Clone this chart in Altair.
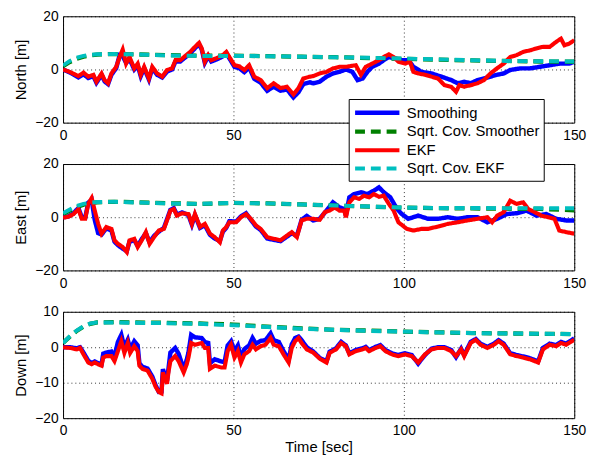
import altair as alt
import pandas as pd

SERIES = ["Smoothing", "Sqrt. Cov. Smoother", "EKF", "Sqrt. Cov. EKF"]
COLORS = ["#0000ff", "#008000", "#ff0000", "#00bfbf"]
WIDTHS = [4.5, 4, 2.5, 3]
DASHES = [[1, 0], [10, 6], [1, 0], [10, 6]]

# ---- North ----
north_ekf_t = [0, 2.1, 4.5, 6, 7.4, 8.9, 9.8, 11.3, 12.2, 13.2, 14.2, 15.6, 16.6, 17.5, 18.5, 19.5,
               20.9, 21.9, 22.8, 23.8, 25.2, 26.2, 27.6, 29.1, 30.5, 32, 33, 34.4, 35.8, 37.3, 38.7,
               39.9, 40.7, 41.6, 42.6, 43.5, 45.5, 46.9, 47.9, 48.8, 50.3, 51.7, 53.2, 54.6, 56.1,
               58, 59.9, 61.8, 63.8, 65.7, 67.6, 69.1, 70.5, 72.4,
               73.4, 75.3, 77.3, 79.2, 81.1, 83, 85.9, 87.4, 88.8, 90.7, 92.7, 94.1, 95.6, 97, 98.4,
               100.4, 101.8, 102.8, 104.2, 106.2, 108.1, 110, 111.9, 113.9, 115.3, 116.3, 117.7,
               119.6, 121.6, 123.5, 125.4, 127.3, 129.3, 131.2, 133.1, 135, 137, 138.9, 140.8,
               142.8, 144.7, 146.1, 147.1, 148.5, 150]
north_ekf = [0, -1, -2.5, -1.2, -2.7, -2, -4.6, -1.5, -4, -5.2, -1.5, 1, 4.7, 7.5, 2.2, 4.7,
             0.4, 2.2, -2, 1, -3.4, 1, -1.5, -2.7, -0.2, 0.4, 3.5, 3.5, 5, 6.6, 8.5,
             10, 7.9, 2.9, 5.4, 3.5, 4.5, 5.4, 6.6, 4.7, 1.6, 1.2, -0.2, 1.6, -2.7,
             -4, -7, -5.2, -7, -6.5, -9.4, -7, -3.4, -2.7,
             -2.5, -1.5, -0.9, 0.4, 1, 1, 1.6, -2, 1, 2.2, 3.5, 4.7, 5.7, 4.7, 2.9,
             2.2, 2.9, -0.9, -1.5, -2, -2.7, -3.4, -5.9, -6.5, -8.4, -5.9, -6.5,
             -5.9, -5.2, -4, -1.5, 0.4, 2.2, 4.7, 5.4, 6.6, 7.2, 7.9, 8.5,
             8.5, 10.4, 11.6, 9.1, 9.7, 11]
north_smooth_t = [0, 2.1, 4.5, 6, 7.4, 8.9, 9.8, 11.3, 12.2, 13.2, 14.2, 15.6, 16.6, 17.5, 18.5, 19.5,
                  20.9, 21.9, 22.8, 23.8, 25.2, 26.2, 27.6, 29.1, 30.5, 32, 33, 34.4, 35.8, 37.3, 38.7,
                  39.9, 40.7, 41.6, 42.6, 43.5, 45.5, 46.9, 47.9, 48.8, 50.3, 51.7, 53.2, 54.6, 56.1,
                  58, 59.9, 61.8, 63.8, 65.7, 67.6, 69.1, 70.5, 72.4,
                  73.4, 75.3, 77.3, 79.2, 81.1, 83, 84.9, 86.4, 87.9, 89.3, 90.7, 92.7, 94.1, 95.6,
                  97.5, 99.4, 101.3, 102.8, 105.2, 108.1, 111, 113.9, 115.8, 117.7, 119.6, 121.6,
                  123.5, 125.4, 127.3, 129.3, 131.2, 134.1, 137, 139.9, 142.8, 145.7, 148.5, 150]
north_smooth = [0, -1.2, -3, -1.8, -3.2, -2.5, -5, -2, -4.5, -5.5, -2, 0.5, 5.4, 5, 2.5, 4,
                0, 1.5, -2.5, 0.5, -3.8, 0.5, -2, -3, -0.8, 0, 3, 3, 4.5, 6, 8,
                9.5, 7.5, 2.5, 5, 3, 4, 5, 6.2, 4.2, 1, 0.5, -1, 0.8, -3.5,
                -5, -8, -6.5, -8, -7.5, -10.5, -8.5, -5.5, -4.8,
                -5.2, -4.6, -2.7, -1.5, -0.9, 0, -0.9, -4, -3.4, -0.9, 1, 2.2, 3.5, 4.7,
                4.1, 3.5, 3.5, 1, -0.9, -1.5, -2.7, -4, -5.2, -4.6, -5.2, -4,
                -3.4, -2.7, -2, -1.5, -0.2, 0.4, 0.4, 1, 1.6, 2.2, 2.2, 2.9]
north_cov_t = [0, 2, 4, 6, 8, 10, 15, 20, 30, 40, 50, 60, 70, 80, 90, 100, 110, 120, 130, 140, 150]
north_cov_smooth = [1.2, 2.8, 4, 4.8, 5.3, 5.6, 5.8, 5.7, 5.4, 5.2, 5.2, 5, 4.8, 4.6, 4.3, 4, 3.7, 3.4, 3.2, 3, 2.9]
north_cov_ekf = [1.5, 3.2, 4.4, 5.1, 5.5, 5.7, 5.8, 5.7, 5.3, 5.1, 5.1, 5, 4.8, 4.6, 4.4, 4.1, 3.8, 3.5, 3.2, 3.1, 3.0]

# ---- East ----
east_ekf_t = [0, 1.6, 3.1, 4.5, 5.5, 6.5, 7.4, 8.4, 9.3, 10.3, 11.3, 12.7, 14.2, 15.1, 16.1, 17.5,
              18.7, 19.5, 20.9, 21.9, 23.1, 24.3, 25.4, 26.7, 28.1, 29.6, 30.5, 31.5, 32.5, 33.4,
              34.9, 36.8, 37.8, 38.7, 40.2, 41.6, 43.1, 44.5, 46, 46.9, 47.9, 48.8, 50.8, 52.2,
              53.7, 55.1, 56.6, 58, 59.9, 61.8, 63.8, 65.7, 67.1, 68.6, 70, 71.5,
              73.4, 75.3, 76.8, 78.2, 79.7, 81.1, 82.5, 83, 84, 85.4, 86.9, 88.3, 89.8, 91.2,
              92.7, 94.1, 95.6, 97, 98.4, 100.9, 102.8, 105.2, 107.1, 110, 112.9, 115.8, 118.7,
              121.6, 124.5, 125.9, 127.4, 129.3, 131.2, 133.1, 135, 136.5, 138.4, 140.4, 142.3,
              144.2, 145.6, 147.6, 150]
east_ekf = [-0.2, 0.2, 1.2, 3.1, -0.6, -0.6, 5, 7.2, 2.5, -2.5, -6.2, -3.7, -4.4, -8.7, -10, -11.2,
            -13.1, -8.7, -8.1, -11.2, -8.7, -5.6, -10, -7.5, -5, -4.4, -1.2, 2.5, 3.1, 0.6,
            1.5, 1.2, -2.5, 1.2, -3.7, -2.5, -6.2, -7.5, -9.4, -5, -3.7, -1.9, -1.9, 0,
            1.2, -0.6, -3.1, -4.4, -7.5, -8.1, -8.7, -6.9, -5.6, -7.5, -1.2, -0.6,
            -0.6, -1.0, 1.9, 2.5, 3.7, 2.5, 2.5, 0, 5.6, 7.5, 6.9, 8.1, 7.5, 8.7,
            7.7, 8.1, 5, 2.5, -1.9, -4.4, -5, -4.4, -4.4, -3.5, -2.5, -1.9, -1.2,
            -0.6, 0, -1.9, 0.6, 1.9, 6.2, 5, 5.6, 3.1, 1.9, 0.6, 0,
            -0.6, -5, -5.6, -6.2]
east_smooth_t = [0, 1.6, 3.1, 4.5, 5.5, 6.5, 7.4, 8.4, 9.3, 10.3, 11.3, 12.7, 14.2, 15.1, 16.1, 17.5,
                 18.7, 19.5, 20.9, 21.9, 23.1, 24.3, 25.4, 26.7, 28.1, 29.6, 30.5, 31.5, 32.5, 33.4,
                 34.9, 36.8, 37.8, 38.7, 40.2, 41.6, 43.1, 44.5, 46, 46.9, 47.9, 48.8, 50.8, 52.2,
                 53.7, 55.1, 56.6, 58, 59.9, 61.8, 63.8, 65.7, 67.1, 68.6, 70, 71.5,
                 73.4, 75.3, 77.3, 79.2, 81.1, 82.5, 83, 84, 85.4, 87.4, 89.3, 91.2, 92.7, 94.1,
                 96, 98, 99.4, 101.3, 104.2, 107.1, 110, 112.9, 115.8, 118.7, 121.6, 124.5,
                 127.4, 130.2, 133.1, 136, 138.9, 141.8, 144.7, 147.6, 150]
east_smooth = [0, 0.3, 1.5, 3.5, 0, -0.2, 5.5, 6.5, -1, -6, -6.5, -4.2, -5, -9.2, -10.5, -11.8,
               -12.8, -9.2, -8.6, -10.8, -8.2, -6, -9.5, -7, -5.4, -4, -0.8, 2.8, 3.4, 1,
               1.8, 0.8, -2.8, 0.8, -4, -3, -6.6, -8, -9, -5.4, -4, -1.5, -1.6, 0.3,
               1.5, -1, -3.5, -4.8, -8, -8.5, -9, -7.3, -6, -7, -1, 0.5,
               -1.2, -0.6, 2.5, 5.6, 3.7, 3.1, 0.6, 7.5, 8.7, 9.4, 8.7, 10, 11.2, 9.4,
               7.5, 3.1, 1.2, -0.6, 0.6, -0.6, -0.6, 0, -0.6, 0, 0, -1.9,
               -0.6, 1.2, 1.5, 2.5, 0.6, 1.2, -0.6, -1.2, -1.2]
east_cov_t = [0, 2, 4, 6, 8, 10, 15, 20, 30, 40, 50, 60, 70, 80, 90, 100, 110, 120, 130, 140, 150]
east_cov_smooth = [1.2, 2.5, 3.8, 4.7, 5.3, 5.6, 5.8, 5.7, 5.3, 5.0, 5.4, 5.2, 4.8, 4.4, 4.0, 3.6, 3.4, 3.3, 3.2, 3.1, 2.6]
east_cov_ekf = [1.5, 2.9, 4.2, 5.0, 5.5, 5.7, 5.8, 5.6, 5.2, 5.0, 5.4, 5.2, 4.8, 4.4, 4.0, 3.6, 3.5, 3.5, 3.4, 3.4, 3.4]

# ---- Down ----
down_ekf_t = [0, 2.1, 4, 5, 6, 7.4, 8.4, 9.3, 10.3, 11.3, 11.8, 12.7, 14.2, 15.1, 16.1, 17.1, 18, 19,
              19.7, 20.9, 21.9, 22.4, 23.3, 24.8, 26.2, 27.2, 28.1, 28.9, 29.3, 30.5, 31, 31.5,
              32.9, 33.9, 35.4, 36.3, 36.8, 37.6, 38.7, 40.7, 41.6, 42.6, 43.1, 44.5, 46.4, 47.4,
              48.3, 49.3, 50.3, 51.3, 52.2, 53.2, 54.6, 55.6, 56.6, 58, 59.4, 60.9, 61.8, 63.3,
              64.7, 66.2, 67.1, 68.1, 69.1, 70, 71.5,
              73.4, 75.3, 77.3, 78.2, 80.1, 81.6, 83, 84, 85.9, 87.9, 88.8, 89.8, 91.7, 93.1,
              94.6, 96.5, 98.4, 100.4, 102.3, 104.2, 106.2, 108.1, 110, 111.9, 113.9, 115.3,
              116.8, 117.7, 119.6, 121.1, 122.5, 124.5, 126.4, 127.8, 129.3, 131.2, 133.1, 135,
              137, 139.4, 140.8, 142.8, 144.7, 146.1, 147.6, 150]
down_ekf = [0, -0.2, -0.6, -0.2, -2, -4.3, -4.8, -4.3, -4.8, -5.2, -2.9, -2.5, -2.5, -3.9, -1.1, 1.7, -1.6, 1.2,
            -1.6, 0.3, -1.1, -5.2, -6.1, -6.6, -8.9, -11.2, -12.6, -13, -7.1, -10.3, -6.6, -3.9,
            -2.5, -3.9, -7.1, -4.8, -2.9, 1.2, 0.7, 1.2, -0.2, -0.2, -6.1, -5.2, -5.7, -5.7,
            -1.1, 0.7, -2.9, -1.1, -4.3, -2, -1.1, 0.7, -0.6, 0.3, 0.7, 2.6, 0.7, 0.3,
            -2, -4.3, -0.2, 1.7, 2.6, 1.2, -0.6,
            -1.5, -3.2, -4.3, -1.6, -0.6, 1.2, 0.3, -2, -1.1, -0.6, -0.2, -1.1, -0.2, 0.3,
            -1.1, -2, -2.5, -2, -2.5, -4.3, -2, -0.6, -0.2, -0.2, -1.1, -2.5,
            -0.6, -2.5, 1.2, 2.1, 0.7, -0.2, 0.7, 1.7, 0.7, -2, -2.5, -2.9,
            -3.4, -4.3, -0.6, 0.7, 0.3, 1.2, 0.7, 2.1]
down_smooth_t = down_ekf_t
down_smooth = [0, 0, -0.3, 0, -1.5, -3.8, -4.5, -4, -4.5, -4.8, -1.8, -1.5, -1.2, -2.5, 1.5, 3.5, 0, 2.1,
               -0.5, 1.7, 0.5, -4.5, -5.5, -6, -8.3, -10.8, -12.6, -12.5, -6.2, -9.5, -5.5, -1.5,
               -0.2, -1.8, -6.2, -3.5, -1.5, 3.5, 2.8, 2.6, 1.5, 1.2, -4.5, -3.4, -4, -4.2,
               0.5, 1.7, -1.1, 0.5, -3, -0.5, 0.5, 2.6, 1, 1.8, 2, 3.9, 2, 1.5,
               -1.1, -3.5, 0.8, 2.6, 3, 2, 0,
               -1.2, -3.0, -4.0, -1.3, -0.3, 1.5, 0.5, -1.7, -0.8, -0.3, 0.1, -0.8, 0.1, 0.6,
               -0.8, -1.7, -2.2, -1.7, -2.2, -4.6, -2.2, -0.4, 0, 0, -0.8, -2.8,
               -0.4, -2.2, 1.5, 2.3, 1, 0.1, 1, 2, 1, -1.7, -2.2, -2.6,
               -3.1, -4.0, -0.2, 1, 0.6, 1.5, 1, 2.5]
down_cov_t = [0, 2, 4, 6, 8, 10, 15, 20, 30, 40, 50, 60, 70, 80, 90, 100, 110, 120, 130, 140, 150]
down_cov_smooth = [1.2, 3.0, 4.6, 5.8, 6.6, 7.0, 7.1, 7.0, 6.9, 6.7, 6.4, 5.8, 5.3, 4.9, 4.7, 4.4, 4.2, 4.0, 3.9, 3.8, 3.7]
down_cov_ekf = [1.2, 3.1, 4.7, 5.9, 6.7, 7.0, 7.0, 6.9, 6.8, 6.6, 6.2, 5.7, 5.2, 4.9, 4.6, 4.4, 4.2, 4.0, 3.9, 3.8, 3.7]

PANELS = [
    ("North [m]", [-20, 20], [-20, 0, 20],
     [(north_smooth_t, north_smooth), (north_cov_t, north_cov_smooth),
      (north_ekf_t, north_ekf), (north_cov_t, north_cov_ekf)]),
    ("East [m]", [-20, 20], [-20, 0, 20],
     [(east_smooth_t, east_smooth), (east_cov_t, east_cov_smooth),
      (east_ekf_t, east_ekf), (east_cov_t, east_cov_ekf)]),
    ("Down [m]", [-20, 10], [-20, -10, 0, 10],
     [(down_smooth_t, down_smooth), (down_cov_t, down_cov_smooth),
      (down_ekf_t, down_ekf), (down_cov_t, down_cov_ekf)]),
]

FONT = "Liberation Sans"
W, H = 519, 108

color_scale = alt.Scale(domain=SERIES, range=COLORS)
dash_scale = alt.Scale(domain=SERIES, range=DASHES)
width_scale = alt.Scale(domain=SERIES, range=WIDTHS)

legend = alt.Legend(
    title=None, orient="none", legendX=290, legendY=84,
    fillColor="white", strokeColor="black", padding=4,
    labelFont=FONT, labelFontSize=15, labelColor="black",
    symbolType="M-1,0H5", symbolSize=225, labelOffset=35, rowPadding=-1,
)

panels = []
for i, (ylabel, ydom, yticks, series_data) in enumerate(PANELS):
    last = i == len(PANELS) - 1
    layers = []
    for name, (ts, vs) in zip(SERIES, series_data):
        df = pd.DataFrame({"t": ts, "v": vs, "series": name})
        layer = alt.Chart(df).mark_line(clip=True).encode(
            x=alt.X("t:Q", scale=alt.Scale(domain=[0, 150], nice=False),
                    axis=alt.Axis(values=[0, 50, 100, 150], title="Time [sec]" if last else None,
                                  labelPadding=6, titlePadding=2, labelFlush=False)),
            y=alt.Y("v:Q", scale=alt.Scale(domain=ydom, nice=False),
                    axis=alt.Axis(values=yticks, title=ylabel, labelPadding=5, titlePadding=6,
                                  labelFlush=False)),
            color=alt.Color("series:N", scale=color_scale, legend=legend),
            strokeDash=alt.StrokeDash("series:N", scale=dash_scale, legend=legend),
            strokeWidth=alt.StrokeWidth("series:N", scale=width_scale, legend=legend),
        )
        layers.append(layer)
    panels.append(alt.layer(*layers).properties(width=W, height=H))

chart = alt.vconcat(*panels, spacing=13).configure_view(
    stroke="black", strokeWidth=1
).configure_axis(
    grid=True, gridColor="black", gridDash=[1, 3], gridOpacity=0.8, gridWidth=1,
    domain=False, ticks=False,
    labelFont=FONT, labelFontSize=14, labelColor="black",
    titleFont=FONT, titleFontSize=15, titleFontWeight=400, titleColor="black",
).properties(
    background="white", padding={"left": 13, "top": 5, "right": 5, "bottom": 5}
)

chart.save("out.html", embed_options={"renderer": "svg", "actions": False})
